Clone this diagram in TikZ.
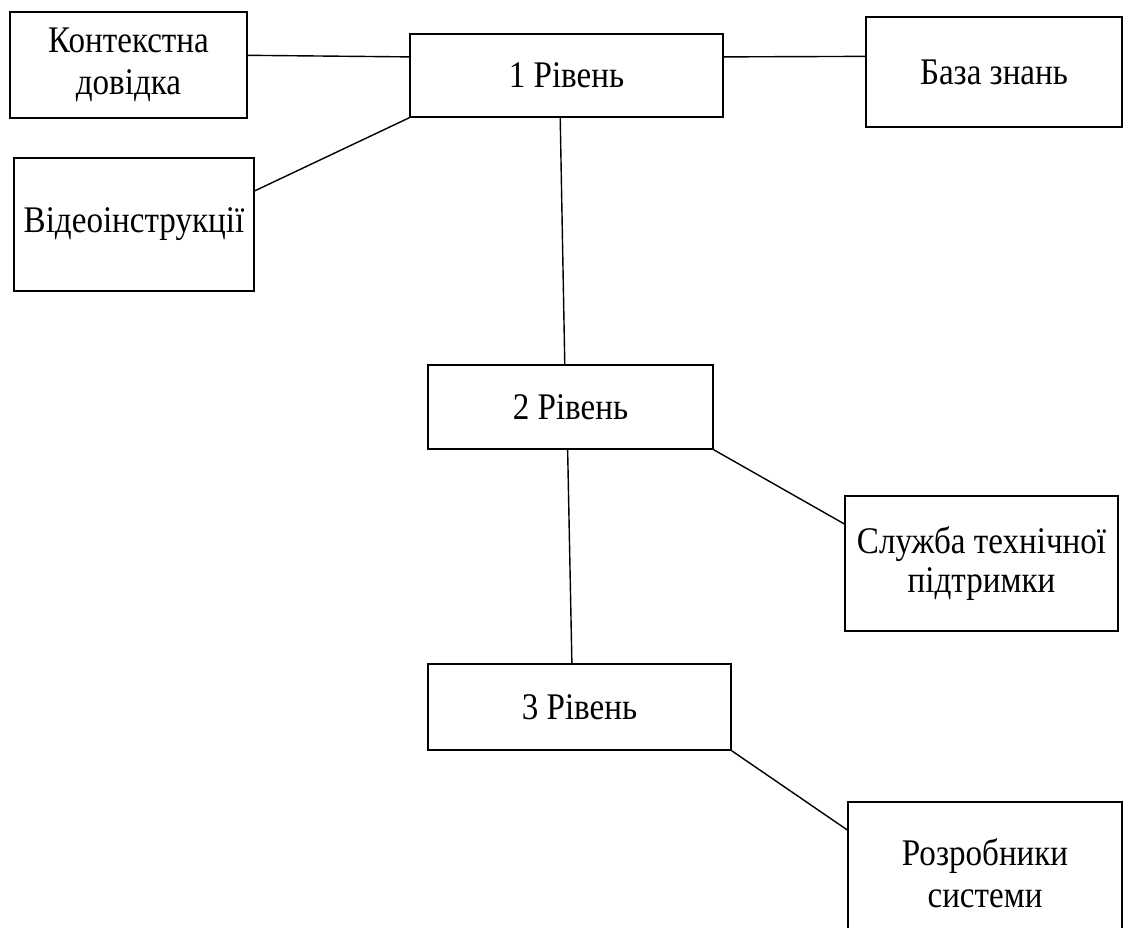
\documentclass[tikz,border=0pt]{standalone}
\usepackage{fontspec}
\setmainfont[FakeStretch=0.88]{Liberation Serif}
\usetikzlibrary{calc}
\begin{document}
\begin{tikzpicture}[x=0.02cm,y=-0.02cm,
  box/.style={draw,line width=0.9pt,align=center,inner sep=0pt,
    font=\fontsize{21.4}{22}\selectfont},
  link/.style={line width=0.8pt}]
  \useasboundingbox (0,0) rectangle (1125,928);
  \clip (0,0) rectangle (1125,928);
  % Ebene 1
  \node[box,minimum width=6.26cm,minimum height=1.66cm] (riven1) at (566.5,75.5) {1 Рівень};
  \node[box,minimum width=4.74cm,minimum height=2.12cm] (kontekst) at (128.5,65) {Контекстна\\[2pt]довідка};
  \node[box,minimum width=4.8cm,minimum height=2.66cm] (video) at (134,224.5) {Відеоінструкції};
  \node[box,minimum width=5.12cm,minimum height=2.2cm] (baza) at (994,72) {База знань};
  % Ebene 2
  \node[box,minimum width=5.7cm,minimum height=1.68cm] (riven2) at (570.5,407) {2 Рівень};
  \node[box,minimum width=5.46cm,minimum height=2.7cm] (sluzhba) at (981.5,563.5) {Служба технічної\\підтримки};
  % Ebene 3
  \node[box,minimum width=6.06cm,minimum height=1.72cm] (riven3) at (579.5,707) {3 Рівень};
  \node[box,minimum width=5.48cm,minimum height=2.84cm] (rozrob) at (985,873) {Розробники\\[2pt]системи};
  % Verbindungen
  \draw[link] ($(kontekst.north east)!0.41!(kontekst.south east)$) -- ($(riven1.north west)!0.28!(riven1.south west)$);
  \draw[link] ($(video.north east)!0.25!(video.south east)$) -- (riven1.south west);
  \draw[link] ($(riven1.north east)!0.28!(riven1.south east)$) -- ($(baza.north west)!0.36!(baza.south west)$);
  \draw[link] ($(riven1.south west)!0.48!(riven1.south east)$) -- ($(riven2.north west)!0.48!(riven2.north east)$);
  \draw[link] (riven2.south east) -- ($(sluzhba.north west)!0.21!(sluzhba.south west)$);
  \draw[link] ($(riven2.south west)!0.49!(riven2.south east)$) -- ($(riven3.north west)!0.475!(riven3.north east)$);
  \draw[link] (riven3.south east) -- ($(rozrob.north west)!0.2!(rozrob.south west)$);
\end{tikzpicture}
\end{document}
